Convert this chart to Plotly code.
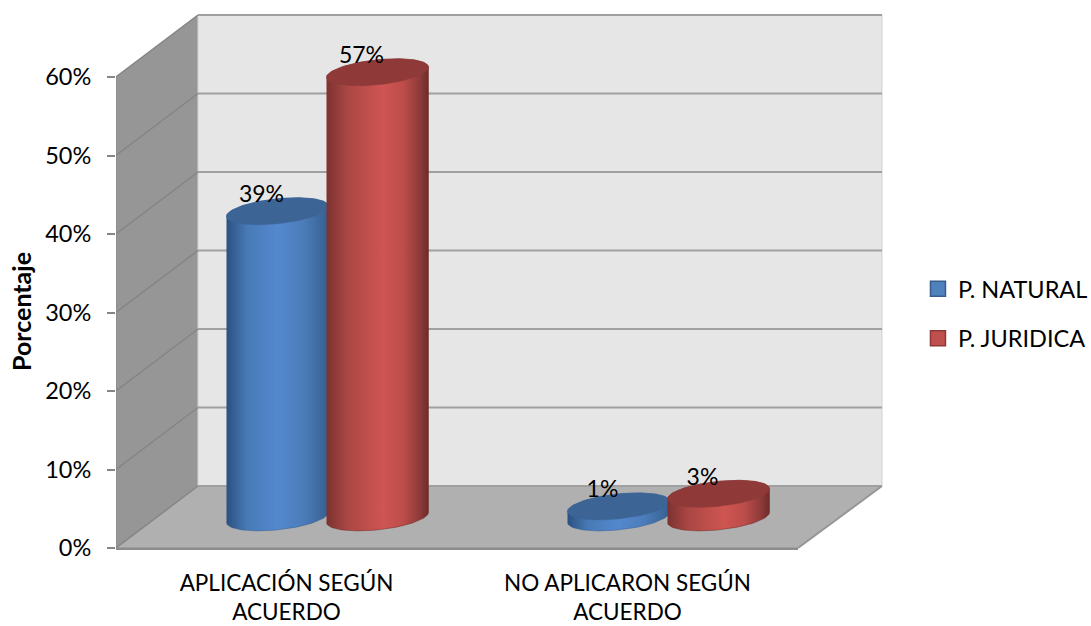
import numpy as np
import plotly.graph_objects as go

categories = ["APLICACIÓN SEGÚN<br>ACUERDO", "NO APLICARON SEGÚN<br>ACUERDO"]
natural = [39, 1.4]
juridica = [56.7, 3]
y_ticks = [0, 10, 20, 30, 40, 50, 60]

FONT = "Lato"
PX_X = 341.0    # pixels per category
PX_Y = 7.85     # pixels per percent
DEPTH_X = 82 / PX_X
DEPTH_Y = 62 / PX_Y
RIGHT_X = 2 + 84 / PX_X
BASE = 3.9      # floor height under the cylinders, in percent
RX, RY, SHEAR = 51, 12.5, 0.1

BLUE_SCALE = [[0, "#2b5080"], [0.2, "#477ab5"], [0.5, "#5488cf"], [0.75, "#4c7dba"], [1, "#365f90"]]
RED_SCALE = [[0, "#7c3230"], [0.2, "#a94643"], [0.55, "#cf5552"], [0.75, "#bd4d4a"], [0.92, "#8c3a38"], [1, "#6e2b29"]]


def ellipse(cx, level, t):
    # tilted ellipse of the cylinder, in axis units
    dx = RX * np.cos(t)
    dy = RY * np.sin(t) + SHEAR * dx
    return cx + dx / PX_X, level + dy / PX_Y


def cylinder(fig, cx, value, scale, cap):
    t_low = np.linspace(np.pi, 2 * np.pi, 60)
    t_up = np.linspace(0, np.pi, 60)
    xb, yb = ellipse(cx, BASE, t_low)
    xt, yt = ellipse(cx, BASE + value, t_up)
    fig.add_trace(go.Scatter(
        x=np.r_[xb, xt], y=np.r_[yb, yt], mode="lines", fill="toself",
        line=dict(width=0.5, color=scale[-1][1]),
        fillgradient=dict(type="horizontal", colorscale=scale),
        showlegend=False, hoverinfo="skip",
    ))
    t_all = np.linspace(0, 2 * np.pi, 120)
    xc, yc = ellipse(cx, BASE + value, t_all)
    fig.add_trace(go.Scatter(
        x=xc, y=yc, mode="lines", fill="toself", fillcolor=cap,
        line=dict(width=0.5, color=cap), showlegend=False, hoverinfo="skip",
    ))


fig = go.Figure()

# walls and floor of the 3d box
shapes = []


def poly(points, fill, line=None, width=0):
    path = "M" + " L".join(f"{x},{y}" for x, y in points) + " Z"
    shapes.append(dict(type="path", path=path, xref="x", yref="y", layer="below",
                       fillcolor=fill, line=dict(width=width, color=line or fill)))


top = y_ticks[-1]
n_cat = len(categories)
poly([(0, 0), (DEPTH_X, DEPTH_Y), (DEPTH_X, top + DEPTH_Y), (0, top)], "#969696")
poly([(DEPTH_X, DEPTH_Y), (RIGHT_X, DEPTH_Y), (RIGHT_X, top + DEPTH_Y), (DEPTH_X, top + DEPTH_Y)],
     "#e6e6e6", "#d2d2d2", 1)
poly([(0, 0), (n_cat, 0), (RIGHT_X, DEPTH_Y), (DEPTH_X, DEPTH_Y)], "#b0b0b0")
for v in y_ticks:
    shapes.append(dict(type="line", xref="x", yref="y", layer="below", x0=0, y0=v, x1=DEPTH_X, y1=v + DEPTH_Y,
                       line=dict(color="#858585", width=1.5)))
    shapes.append(dict(type="line", xref="x", yref="y", layer="below", x0=DEPTH_X, y0=v + DEPTH_Y,
                       x1=RIGHT_X, y1=v + DEPTH_Y, line=dict(color="#a0a0a0", width=2)))
shapes.append(dict(type="line", xref="x", yref="y", layer="below", x0=0, y0=0, x1=0, y1=top,
                   line=dict(color="#8c8c8c", width=1.5)))
shapes.append(dict(type="line", xref="x", yref="y", layer="below", x0=0, y0=-0.1, x1=n_cat, y1=-0.1,
                   line=dict(color="#8c8c8c", width=2.5)))
shapes.append(dict(type="line", xref="x", yref="y", layer="below", x0=n_cat, y0=0, x1=RIGHT_X, y1=DEPTH_Y,
                   line=dict(color="#969696", width=2)))

label_x, label_y, labels = [], [], []
for i in range(n_cat):
    center = i + 0.5 + DEPTH_X / 2
    cx_blue, cx_red = center - 50 / PX_X, center + 50 / PX_X
    cylinder(fig, cx_blue, natural[i], BLUE_SCALE, "#3c6596")
    cylinder(fig, cx_red, juridica[i], RED_SCALE, "#8f3a38")
    for cx, v in ((cx_blue, natural[i]), (cx_red, juridica[i])):
        label_x.append(cx - 16 / PX_X)
        label_y.append(BASE + v + 15 / PX_Y)
        labels.append(f"{round(v)}%")

fig.add_trace(go.Scatter(x=label_x, y=label_y, text=labels, mode="text",
                         textfont=dict(family=FONT, size=23, color="black"),
                         showlegend=False, hoverinfo="skip"))

# legend entries
for name, col, dark, group in (("P. NATURAL", "#4f81bd", "#385d8a", "a"), ("P. JURIDICA", "#c0504d", "#8c3836", "b")):
    fig.add_trace(go.Scatter(x=[None], y=[None], mode="markers", name=name, legendgroup=group,
                             marker=dict(symbol="square", size=15, color=col, line=dict(color=dark, width=1.5))))

fig.add_annotation(text="<b>Porcentaje</b>", xref="paper", yref="paper", x=(21 - 116) / 775, y=1 - 312 / 552,
                   xanchor="center", yanchor="middle", textangle=-90, showarrow=False,
                   font=dict(family=FONT, size=25, color="black"))

fig.update_layout(
    width=1091, height=626,
    margin=dict(l=116, r=200, t=0, b=74, autoexpand=False),
    paper_bgcolor="white", plot_bgcolor="white",
    shapes=shapes,
    font=dict(family=FONT, size=20, color="black"),
    xaxis=dict(range=[0, 775 / PX_X], tickvals=[0.5, 1.5], ticktext=categories, showgrid=False,
               zeroline=False, showline=False, ticks="", ticklabelstandoff=15, tickfont=dict(size=22.5)),
    yaxis=dict(range=[-4 / PX_Y, 548 / PX_Y], tickvals=y_ticks, ticktext=[f"{v}%" for v in y_ticks],
               showgrid=False, zeroline=False, showline=False, ticks="outside", ticklen=8, tickwidth=1.5,
               tickcolor="#868686", tickfont=dict(size=23.5), ticklabelstandoff=11),
    legend=dict(x=1.0348, y=1 - 314 / 552, xanchor="left", yanchor="middle", tracegroupgap=16,
                font=dict(size=23.5), bgcolor="rgba(0,0,0,0)"),
)

fig.write_html("out.html", config=dict(displayModeBar=False), post_script="document.body.style.margin='0';")
